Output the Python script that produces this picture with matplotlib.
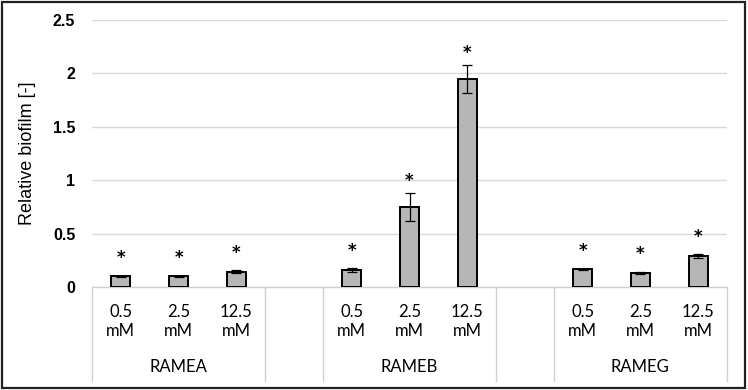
import matplotlib
matplotlib.use("Agg")
import matplotlib.pyplot as plt
import matplotlib.transforms as mtransforms
from matplotlib.patches import Rectangle

# ---- data ----
groups = ["RAMEA", "RAMEB", "RAMEG"]
concentrations = ["0.5\nmM", "2.5\nmM", "12.5\nmM"]
rame_a = [0.10, 0.10, 0.145]
rame_b = [0.16, 0.75, 1.95]
rame_g = [0.165, 0.13, 0.29]
rame_a_err = [0.005, 0.006, 0.01]
rame_b_err = [0.02, 0.13, 0.13]
rame_g_err = [0.008, 0.006, 0.02]
y_ticks = [0, 0.5, 1, 1.5, 2, 2.5]
y_tick_labels = ["0", "0.5", "1", "1.5", "2", "2.5"]
y_label = "Relative biofilm [-]"

values = [rame_a, rame_b, rame_g]
errors = [rame_a_err, rame_b_err, rame_g_err]

# ---- layout ----
W, H = 748, 390
fig = plt.figure(figsize=(W / 100, H / 100), dpi=100)
ax = fig.add_axes([92 / W, 1 - 287 / H, (727 - 92) / W, (287 - 20) / H])

font = "Liberation Sans"
cat_font = "Lato"
bar_color = "#B6B6B6"
grid_color = "#D9D9D9"
div_color = "#D0D0D0"

slots_per_group = len(concentrations) + 1  # one empty slot between groups
n_slots = len(groups) * slots_per_group - 1

xs, ys, es = [], [], []
for gi, (vals, errs) in enumerate(zip(values, errors)):
    for ci, (v, e) in enumerate(zip(vals, errs)):
        xs.append(gi * slots_per_group + ci)
        ys.append(v)
        es.append(e)

ax.bar(xs, ys, width=0.33, color=bar_color, edgecolor="black", linewidth=1.4, zorder=3)
ax.errorbar(xs, ys, yerr=es, fmt="none", ecolor="black", elinewidth=0.9,
            capsize=3.5, capthick=0.9, zorder=4)

# significance stars
for x, v, e in zip(xs, ys, es):
    sy = max(v + e + 0.115, v + 0.175)
    ax.text(x, sy, "*", ha="center", va="center", fontsize=12,
            fontweight="bold", fontfamily="DejaVu Sans", zorder=5)

ax.set_xlim(-0.5, n_slots - 0.5)
ax.set_ylim(0, 2.5)
ax.set_yticks(y_ticks)
ax.set_yticklabels(y_tick_labels, fontfamily=font, fontsize=11.5, fontweight="bold")
ax.tick_params(axis="y", length=0, pad=12)
ax.set_xticks([])
ax.grid(axis="y", color=grid_color, linewidth=1.0, zorder=0)
ax.set_axisbelow(True)
for s in ["top", "right", "left"]:
    ax.spines[s].set_visible(False)
ax.spines["bottom"].set_color(div_color)
ax.spines["bottom"].set_linewidth(1.0)

ax.set_ylabel(y_label, fontfamily=font, fontsize=13)
ax.yaxis.set_label_coords(-0.088, 0.5)

# multi-level category axis
trans = mtransforms.blended_transform_factory(ax.transData, ax.transAxes)
axis_px = 287 - 20
depth = -(381 - 287) / axis_px
for gi, g in enumerate(groups):
    start = gi * slots_per_group - 0.5
    end = start + len(concentrations)
    for b in (start, end):
        ax.plot([b, b], [0, depth], transform=trans, color=div_color,
                linewidth=1.0, clip_on=False)
    for ci, c in enumerate(concentrations):
        ax.text(gi * slots_per_group + ci, -(321.5 - 287) / axis_px, c,
                transform=trans, ha="center", va="center", fontsize=12,
                fontfamily=cat_font, linespacing=1.25)
    ax.text((start + end) / 2, -(367.5 - 287) / axis_px, g, transform=trans,
            ha="center", va="center", fontsize=12, fontfamily=cat_font)

# outer frame
fig.patches.append(Rectangle((1.5 / W, 2.5 / H), (745 - 1.5) / W, (388 - 2.5) / H,
                             transform=fig.transFigure, fill=False,
                             edgecolor="#222222", linewidth=1.6))

fig.savefig("out.png", dpi=100)
